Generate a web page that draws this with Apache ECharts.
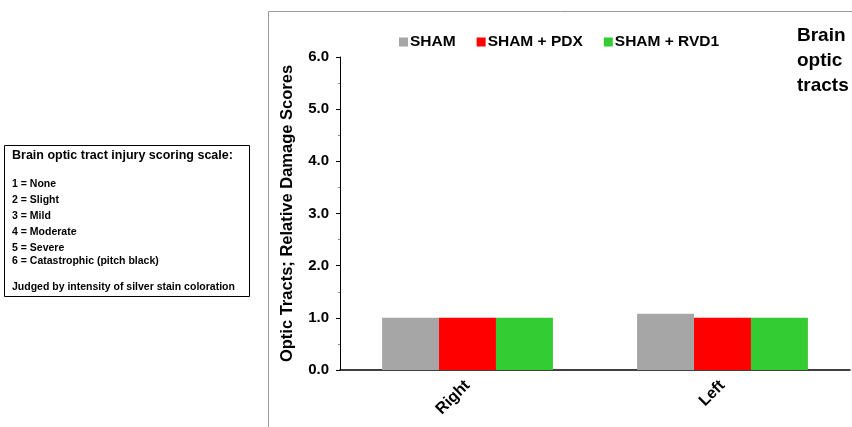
<!DOCTYPE html>
<html><head><meta charset="utf-8">
<script src="https://cdn.jsdelivr.net/npm/echarts@6/dist/echarts.min.js"></script>
<style>html,body{margin:0;padding:0;background:#fff}#c{width:852px;height:427px}</style>
</head><body><div id="c"></div>
<script>
const categories = ['Right', 'Left'];
const seriesNames = ['SHAM', 'SHAM + PDX', 'SHAM + RVD1'];
const shamValues = [1.0, 1.08];
const pdxValues = [1.0, 1.0];
const rvd1Values = [1.0, 1.0];
const colors = ['#A6A6A6', '#FF0000', '#33CC33'];
const scaleLines = ['1 = None', '2 = Slight', '3 = Mild', '4 = Moderate', '5 = Severe', '6 = Catastrophic (pitch black)'];

const F = 'Liberation Sans, Arial, sans-serif';
const chart = echarts.init(document.getElementById('c'));
const boxTexts = [
  {t: scaleLines[0], y: 184}, {t: scaleLines[1], y: 200}, {t: scaleLines[2], y: 216},
  {t: scaleLines[3], y: 232}, {t: scaleLines[4], y: 248}, {t: scaleLines[5], y: 261},
  {t: 'Judged by intensity of silver stain coloration', y: 287}
];
chart.setOption({
  animation: false,
  color: colors,
  textStyle: {fontFamily: F},
  grid: {left: 340, right: 2, top: 57, bottom: 57, containLabel: false},
  legend: {
    top: 29, left: 394, itemWidth: 9, itemHeight: 9, itemGap: 21,
    icon: 'rect',
    textStyle: {fontSize: 15.5, fontWeight: 'bold', color: '#000', fontFamily: F, padding: [0, 0, 0, -3]},
    data: seriesNames
  },
  xAxis: {
    type: 'category', data: categories,
    axisLine: {lineStyle: {color: '#000', width: 1.5}},
    axisTick: {show: false},
    axisLabel: {rotate: 45, fontSize: 16, fontWeight: 'bold', color: '#000', fontFamily: F, margin: 13}
  },
  yAxis: {
    type: 'value', min: 0, max: 6, interval: 1,
    name: 'Optic Tracts; Relative Damage Scores', nameLocation: 'middle', nameGap: 44,
    nameTextStyle: {fontSize: 16.5, fontWeight: 'bold', color: '#000', fontFamily: F},
    axisLine: {show: true, lineStyle: {color: '#000', width: 1}},
    axisTick: {show: true, length: 4, lineStyle: {color: '#000'}},
    minorTick: {show: true, splitNumber: 2, length: 2, lineStyle: {color: '#888'}},
    splitLine: {show: false},
    axisLabel: {fontSize: 15, fontWeight: 'bold', color: '#000', fontFamily: F, margin: 11,
      formatter: v => v.toFixed(1)}
  },
  series: [
    {name: seriesNames[0], type: 'bar', data: shamValues, barGap: '0%', barCategoryGap: '33%'},
    {name: seriesNames[1], type: 'bar', data: pdxValues, barGap: '0%', barCategoryGap: '33%'},
    {name: seriesNames[2], type: 'bar', data: rvd1Values, barGap: '0%', barCategoryGap: '33%'}
  ],
  graphic: [
    {type: 'rect', shape: {x: 268.5, y: 11.5, width: 700, height: 500}, style: {fill: 'none', stroke: '#999', lineWidth: 1}, z: -10},
    {type: 'text', left: 797, top: 23, style: {text: 'Brain\noptic\ntracts', font: 'bold 19px ' + F, fill: '#000', lineHeight: 25}},
    {type: 'rect', shape: {x: 4.5, y: 145.5, width: 245, height: 151}, style: {fill: '#fff', stroke: '#000', lineWidth: 1}},
    {type: 'text', x: 12, y: 156, style: {text: 'Brain optic tract injury scoring scale:', font: 'bold 12.5px ' + F, fill: '#000', verticalAlign: 'middle'}},
    ...boxTexts.map(b => ({type: 'text', x: 12, y: b.y, style: {text: b.t, font: 'bold 10.5px ' + F, fill: '#000', verticalAlign: 'middle'}}))
  ]
});
</script></body></html>
